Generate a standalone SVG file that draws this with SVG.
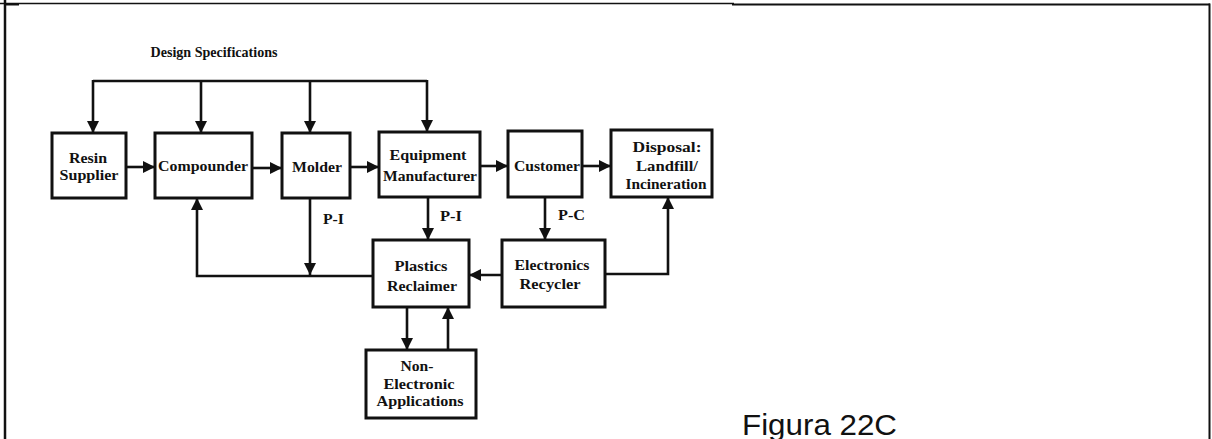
<svg xmlns="http://www.w3.org/2000/svg" width="1212" height="439" viewBox="0 0 1212 439">
  <style>
    .frame { stroke: #111; fill: none; }
    .box { fill: #fff; stroke: #111; stroke-width: 3; }
    .lbl { font-family: "Liberation Serif", "Times New Roman", serif; font-weight: bold; font-size: 15px; fill: #111; text-anchor: middle; }
    .title { font-family: "Liberation Serif", "Times New Roman", serif; font-weight: bold; font-size: 14px; fill: #111; text-anchor: middle; }
    .tag { font-family: "Liberation Serif", "Times New Roman", serif; font-weight: bold; font-size: 14px; fill: #111; }
    .wire { fill: none; stroke: #111; stroke-width: 2.6; stroke-linejoin: miter; }
    .arrow { marker-end: url(#head); }
    .caption { font-family: "Liberation Sans", Arial, sans-serif; font-size: 29px; fill: #111; }
  </style>
  <defs>
    <marker id="head" markerUnits="userSpaceOnUse" markerWidth="13" markerHeight="12" refX="12" refY="6" orient="auto">
      <path d="M0,0 L12,6 L0,12 z" fill="#111"/>
    </marker>
  </defs>

  <rect width="1212" height="439" fill="#fff"/>

  <!-- page frame -->
  <g id="frame">
    <line class="frame" x1="5" y1="0" x2="5" y2="439" stroke-width="2.5"/>
    <line class="frame" x1="0" y1="3.5" x2="734" y2="3.5" stroke-width="1.5"/>
    <line class="frame" x1="732" y1="4.5" x2="1210" y2="4.5" stroke-width="2"/>
    <line class="frame" x1="5" y1="4.5" x2="19" y2="4.5" stroke-width="2"/>
    <line class="frame" x1="1209.5" y1="3.5" x2="1209.5" y2="439" stroke-width="2"/>
  </g>

  <text class="title" x="214" y="57" textLength="127" lengthAdjust="spacingAndGlyphs">Design Specifications</text>

  <!-- connectors -->
  <g id="connectors">
    <path class="wire" d="M93,81 H427"/>
    <path class="wire arrow" d="M93,80 V133"/>
    <path class="wire arrow" d="M201,81 V133"/>
    <path class="wire arrow" d="M310,81 V133"/>
    <path class="wire arrow" d="M427,80 V132"/>

    <path class="wire arrow" d="M126,167 H155"/>
    <path class="wire arrow" d="M252,168 H282"/>
    <path class="wire arrow" d="M350,167 H379"/>
    <path class="wire arrow" d="M480,166 H508"/>
    <path class="wire arrow" d="M582,166 H611"/>

    <path class="wire arrow" d="M310,198 V275"/>
    <path class="wire arrow" d="M373,276 H197 V198"/>
    <path class="wire arrow" d="M428,197 V240"/>
    <path class="wire arrow" d="M545,197 V240"/>
    <path class="wire arrow" d="M502,275 H469"/>
    <path class="wire arrow" d="M605,274 H668 V197"/>
    <path class="wire arrow" d="M407,307 V350"/>
    <path class="wire arrow" d="M448,350 V307"/>

    <text class="tag" x="323" y="224" textLength="21" lengthAdjust="spacingAndGlyphs">P-I</text>
    <text class="tag" x="440" y="221" textLength="22" lengthAdjust="spacingAndGlyphs">P-I</text>
    <text class="tag" x="558" y="220" textLength="27" lengthAdjust="spacingAndGlyphs">P-C</text>
  </g>

  <!-- nodes -->
  <g id="resin-supplier">
    <rect class="box" x="52" y="133" width="74" height="65"/>
    <text class="lbl" x="88" y="163" textLength="38" lengthAdjust="spacingAndGlyphs">Resin</text>
    <text class="lbl" x="89" y="180" textLength="59" lengthAdjust="spacingAndGlyphs">Supplier</text>
  </g>

  <g id="compounder">
    <rect class="box" x="155" y="133" width="97" height="65"/>
    <text class="lbl" x="203" y="171" textLength="90" lengthAdjust="spacingAndGlyphs">Compounder</text>
  </g>

  <g id="molder">
    <rect class="box" x="282" y="133" width="68" height="65"/>
    <text class="lbl" x="317" y="172" textLength="50" lengthAdjust="spacingAndGlyphs">Molder</text>
  </g>

  <g id="equipment-manufacturer">
    <rect class="box" x="379" y="132" width="101" height="65"/>
    <text class="lbl" x="428" y="160" textLength="77" lengthAdjust="spacingAndGlyphs">Equipment</text>
    <text class="lbl" x="430" y="181" textLength="94" lengthAdjust="spacingAndGlyphs">Manufacturer</text>
  </g>

  <g id="customer">
    <rect class="box" x="508" y="131" width="74" height="66"/>
    <text class="lbl" x="547" y="171" textLength="66" lengthAdjust="spacingAndGlyphs">Customer</text>
  </g>

  <g id="disposal">
    <rect class="box" x="611" y="130" width="101" height="67"/>
    <text class="lbl" x="667" y="152" textLength="69" lengthAdjust="spacingAndGlyphs">Disposal:</text>
    <text class="lbl" x="667" y="171" textLength="62" lengthAdjust="spacingAndGlyphs">Landfill/</text>
    <text class="lbl" x="666" y="189" textLength="81" lengthAdjust="spacingAndGlyphs">Incineration</text>
  </g>

  <g id="plastics-reclaimer">
    <rect class="box" x="373" y="240" width="96" height="67"/>
    <text class="lbl" x="421" y="271" textLength="53" lengthAdjust="spacingAndGlyphs">Plastics</text>
    <text class="lbl" x="422" y="291" textLength="70" lengthAdjust="spacingAndGlyphs">Reclaimer</text>
  </g>

  <g id="electronics-recycler">
    <rect class="box" x="502" y="240" width="103" height="67"/>
    <text class="lbl" x="552" y="270" textLength="75" lengthAdjust="spacingAndGlyphs">Electronics</text>
    <text class="lbl" x="550" y="289" textLength="61" lengthAdjust="spacingAndGlyphs">Recycler</text>
  </g>

  <g id="non-electronic-applications">
    <rect class="box" x="366" y="350" width="110" height="68"/>
    <text class="lbl" x="417" y="371" textLength="33" lengthAdjust="spacingAndGlyphs">Non-</text>
    <text class="lbl" x="419" y="389" textLength="71" lengthAdjust="spacingAndGlyphs">Electronic</text>
    <text class="lbl" x="420" y="406" textLength="87" lengthAdjust="spacingAndGlyphs">Applications</text>
  </g>

  <text class="caption" x="742" y="435" textLength="155" lengthAdjust="spacingAndGlyphs">Figura 22C</text>
</svg>
